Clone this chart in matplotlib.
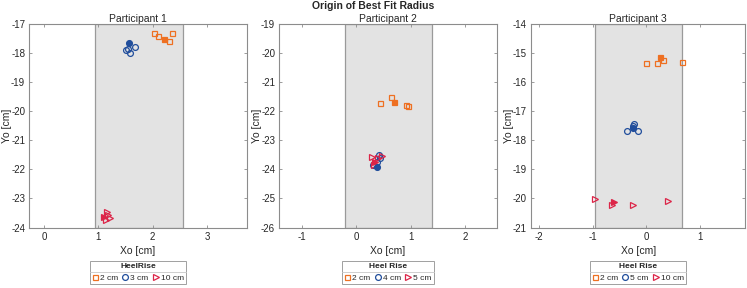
import matplotlib.pyplot as plt
from matplotlib.lines import Line2D
from matplotlib.ticker import MultipleLocator

plt.rcParams['font.family'] = ['Liberation Sans', 'DejaVu Sans']
plt.rcParams['axes.unicode_minus'] = False

participants = ["Participant 1", "Participant 2", "Participant 3"]
legend_titles = ["HeelRise", "Heel Rise", "Heel Rise"]
legend_labels = [["2 cm", "3 cm", "10 cm"],
                 ["2 cm", "4 cm", "5 cm"],
                 ["2 cm", "5 cm", "10 cm"]]
xlims = [(-0.27, 3.73), (-1.42, 2.58), (-2.155, 1.845)]
ylims = [(-24, -17), (-26, -19), (-21, -14)]
shade_lo = [0.935, -0.21, -0.955]
shade_hi = [2.55, 1.39, 0.655]

# first point of every group is the filled (mean) marker
p1_sq_x = [2.20, 2.02, 2.09, 2.30, 2.36]
p1_sq_y = [-17.51, -17.32, -17.40, -17.58, -17.32]
p1_ci_x = [1.565, 1.51, 1.54, 1.58, 1.68]
p1_ci_y = [-17.67, -17.91, -17.85, -17.99, -17.80]
p1_tr_x = [1.11, 1.155, 1.18, 1.215, 1.14]
p1_tr_y = [-23.64, -23.47, -23.56, -23.67, -23.73]

p2_sq_x = [0.69, 0.44, 0.63, 0.91, 0.95]
p2_sq_y = [-21.68, -21.72, -21.52, -21.78, -21.83]
p2_ci_x = [0.37, 0.41, 0.31, 0.38, 0.43]
p2_ci_y = [-23.91, -23.52, -23.86, -23.75, -23.62]
p2_tr_x = [0.35, 0.28, 0.40, 0.47, 0.33]
p2_tr_y = [-23.76, -23.58, -23.60, -23.55, -23.85]

p3_sq_x = [0.25, -0.015, 0.19, 0.30, 0.67]
p3_sq_y = [-15.15, -15.33, -15.34, -15.23, -15.31]
p3_ci_x = [-0.25, -0.37, -0.23, -0.15, -0.26]
p3_ci_y = [-17.58, -17.68, -17.43, -17.69, -17.52]
p3_tr_x = [-0.61, -0.96, -0.65, -0.25, 0.395]
p3_tr_y = [-20.12, -20.03, -20.24, -20.23, -20.09]

squares = [(p1_sq_x, p1_sq_y), (p2_sq_x, p2_sq_y), (p3_sq_x, p3_sq_y)]
circles = [(p1_ci_x, p1_ci_y), (p2_ci_x, p2_ci_y), (p3_ci_x, p3_ci_y)]
triangles = [(p1_tr_x, p1_tr_y), (p2_tr_x, p2_tr_y), (p3_tr_x, p3_tr_y)]

colors = ["#EE7022", "#214E9C", "#DC2548"]
markers = ["s", "o", ">"]
msizes = [3.6, 4.2, 4.4]
edge_gray = "#8c8c8c"
text_col = "#262626"

fig = plt.figure(figsize=(7.47, 2.88), dpi=100)
lefts = [0.0392, 0.3739, 0.7108]
widths = [0.291, 0.291, 0.287]

axes = []
for i in range(3):
    ax = fig.add_axes([lefts[i], 0.210, widths[i], 0.7066])
    axes.append(ax)
    ax.axvspan(shade_lo[i], shade_hi[i], facecolor="#e3e3e3", edgecolor="#9a9a9a",
               lw=0.9, zorder=0)
    groups = [squares[i], circles[i], triangles[i]]
    handles = []
    for g, (xs, ys) in enumerate(groups):
        ax.plot(xs[1:], ys[1:], linestyle="none", marker=markers[g], ms=msizes[g],
                mfc="none", mec=colors[g], mew=0.9, zorder=3)
        ax.plot(xs[:1], ys[:1], linestyle="none", marker=markers[g], ms=msizes[g],
                mfc=colors[g], mec=colors[g], mew=0.9, zorder=4)
        handles.append(Line2D([], [], linestyle="none", marker=markers[g], ms=msizes[g],
                              mfc="none", mec=colors[g], mew=0.9))
    ax.set_xlim(*xlims[i])
    ax.set_ylim(*ylims[i])
    ax.xaxis.set_major_locator(MultipleLocator(1))
    ax.yaxis.set_major_locator(MultipleLocator(1))
    ax.tick_params(direction="in", length=2.5, width=0.6, colors=edge_gray,
                   labelcolor=text_col, labelsize=7, top=True, right=True, pad=3)
    for s in ax.spines.values():
        s.set_color(edge_gray)
        s.set_linewidth(0.8)
    ax.set_title(participants[i], fontsize=7.5, color=text_col, pad=1.5)
    ax.set_xlabel("Xo [cm]", fontsize=7.5, color=text_col, labelpad=3)
    ax.set_ylabel("Yo [cm]", fontsize=7.5, color=text_col)
    ax.yaxis.set_label_coords(-0.08, 0.5)
    leg = ax.legend(handles, legend_labels[i], title=legend_titles[i], ncol=3,
                    loc="upper center", bbox_to_anchor=(0.5, -0.165), fontsize=6,
                    title_fontproperties={"weight": "bold", "size": 6},
                    frameon=True, fancybox=False, edgecolor="#a0a0a0", framealpha=1,
                    handlelength=0.7, handletextpad=0.25, columnspacing=0.5,
                    borderpad=0.25, labelspacing=0.2, borderaxespad=0)
    leg.get_frame().set_linewidth(0.7)
    leg._legend_box.sep = 3
    for t in leg.get_texts():
        t.set_color(text_col)
    leg.get_title().set_color(text_col)

fig.text(0.5, 0.997, "Origin of Best Fit Radius", ha="center", va="top",
         fontsize=7.5, fontweight="bold", color=text_col)

# separator line between legend title and entries, as in the original
fig.canvas.draw()
renderer = fig.canvas.get_renderer()
for ax in axes:
    leg = ax.get_legend()
    fb = leg.get_frame().get_window_extent(renderer)
    tb = leg.get_title().get_window_extent(renderer)
    ysep = tb.y0 - 1.5
    inv = fig.transFigure.inverted()
    (x0, y0) = inv.transform((fb.x0, ysep))
    (x1, _) = inv.transform((fb.x1, ysep))
    fig.add_artist(Line2D([x0, x1], [y0, y0], color="#c8c8c8", lw=0.6,
                          transform=fig.transFigure))

fig.savefig("out.png", dpi=100)
